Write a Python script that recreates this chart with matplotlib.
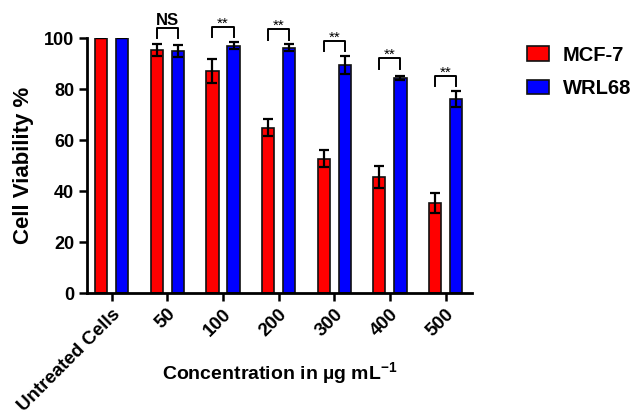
import matplotlib
matplotlib.use('Agg')
import matplotlib.pyplot as plt
from matplotlib.font_manager import FontProperties
import numpy as np

plt.rcParams['font.family'] = ['Liberation Sans', 'DejaVu Sans']
plt.rcParams['font.weight'] = 'bold'
plt.rcParams['mathtext.fontset'] = 'custom'
plt.rcParams['mathtext.bf'] = 'Liberation Sans:bold'
plt.rcParams['mathtext.rm'] = 'Liberation Sans:bold'
plt.rcParams['mathtext.it'] = 'Liberation Sans:bold'

# Chart data
groups = ['Untreated Cells', '50', '100', '200', '300', '400', '500']
mcf7_mean = [100, 95.3, 86.9, 64.8, 52.7, 45.4, 35.3]
mcf7_err = [0, 2.2, 4.7, 3.3, 3.2, 4.4, 3.8]
wrl68_mean = [100, 94.9, 97.0, 96.2, 89.4, 84.2, 76.1]
wrl68_err = [0, 2.4, 1.4, 1.4, 3.6, 0.85, 3.0]

# Significance annotations (None = no bracket)
sig_labels = [None, 'NS', '**', '**', '**', '**', '**']
sig_y = [None, 104.0, 104.4, 103.4, 98.8, 92.0, 85.1]


def main():
    fig = plt.figure(figsize=(6.33, 4.18), dpi=100)
    ax = fig.add_axes([0.137, 0.299, 0.609, 0.610])

    x = np.arange(len(groups))
    offset = 0.19
    width = 0.22

    err_kw = dict(elinewidth=1.6, capsize=3.5, capthick=1.6, ecolor='black')
    ax.bar(x - offset, mcf7_mean, width, yerr=mcf7_err, color='#ff0000',
           edgecolor='#111111', linewidth=1.2, label='MCF-7', error_kw=err_kw)
    ax.bar(x + offset, wrl68_mean, width, yerr=wrl68_err, color='#0000ff',
           edgecolor='#111111', linewidth=1.2, label='WRL68', error_kw=err_kw)

    # Significance brackets
    for i, (lab, top) in enumerate(zip(sig_labels, sig_y)):
        if lab is None:
            continue
        x0, x1 = i - offset, i + offset
        ax.plot([x0, x0, x1, x1], [top - 4, top, top, top - 4], color='black',
                lw=1.4, clip_on=False)
        if lab == 'NS':
            ax.text(i, top + 1.2, lab, ha='center', va='baseline', fontsize=12,
                    fontweight='bold')
        else:
            ax.text(i, top - 0.2, lab, ha='center', va='baseline', fontsize=11,
                    fontweight='normal')

    ax.set_xlim(-0.45, 6.48)
    ax.set_ylim(0, 100)
    ax.set_yticks([0, 20, 40, 60, 80, 100])
    ax.set_xticks(x)
    ax.set_xticklabels(groups, rotation=45, ha='right', rotation_mode='anchor',
                       fontsize=13.5, fontweight='bold')
    for lbl in ax.get_yticklabels():
        lbl.set_fontsize(13)
        lbl.set_fontweight('bold')

    for side in ['top', 'right']:
        ax.spines[side].set_visible(False)
    for side in ['left', 'bottom']:
        ax.spines[side].set_linewidth(2.0)
    ax.tick_params(width=1.8, length=6, direction='out', pad=3)

    ax.set_ylabel('Cell Viability %', fontsize=16, fontweight='bold')
    ax.yaxis.set_label_coords(-0.138, 0.5)
    ax.set_xlabel('Concentration in \u00b5g mL$^{-1}$',
                  fontsize=14, fontweight='bold')
    ax.xaxis.set_label_coords(0.5, -0.265)

    legend_font = FontProperties(family='Liberation Sans', weight='bold', size=14.5)
    fig.legend(loc='upper left', bbox_to_anchor=(0.8325, 0.891), frameon=False,
               prop=legend_font, handlelength=1.08,
               handleheight=0.72, handletextpad=0.7, labelspacing=0.72,
               borderpad=0, borderaxespad=0)

    fig.savefig('out.png', dpi=100)


if __name__ == '__main__':
    main()
